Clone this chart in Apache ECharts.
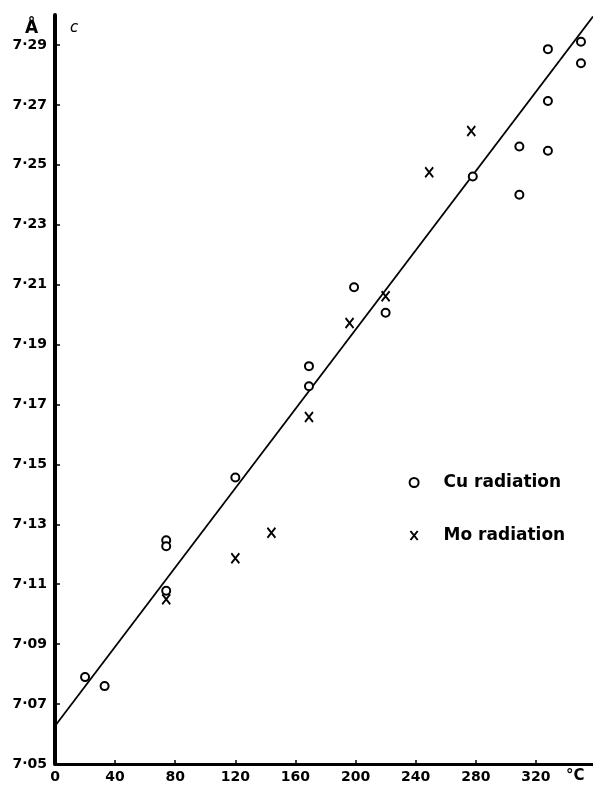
<!DOCTYPE html>
<html>
<head>
<meta charset="utf-8">
<script src="https://cdn.jsdelivr.net/npm/echarts@6/dist/echarts.min.js"></script>
<style>
html,body{margin:0;padding:0;background:#fff;}
#chart{width:593px;height:785px;}
</style>
</head>
<body>
<div id="chart"></div>
<script>
// Temperature (°C) and lattice parameter c (Å)
var cuTemp = [20, 33, 74, 74, 74, 120, 169, 169, 199, 220, 278, 309, 309, 328, 328, 328, 350, 350];
var cuC    = [7.079, 7.076, 7.1247, 7.1227, 7.1078, 7.1456, 7.1828, 7.1761, 7.2091, 7.2006, 7.2461, 7.2561, 7.2400, 7.2886, 7.2713, 7.2547, 7.2911, 7.2839];
var moTemp = [74, 120, 144, 169, 196, 220, 249, 277];
var moC    = [7.105, 7.1187, 7.1272, 7.1658, 7.1972, 7.2061, 7.2475, 7.2613];
var fitTemp = [0, 358];
var fitC    = [7.0627, 7.2995];
var xTicks = [0, 40, 80, 120, 160, 200, 240, 280, 320];
var yTicks = [7.05, 7.07, 7.09, 7.11, 7.13, 7.15, 7.17, 7.19, 7.21, 7.23, 7.25, 7.27, 7.29];

function pairs(a, b) { return a.map(function (v, i) { return [v, b[i]]; }); }

var FONT = 'DejaVu Sans';
var chart = echarts.init(document.getElementById('chart'));
chart.setOption({
  animation: false,
  backgroundColor: '#fff',
  grid: { left: 55, right: 0, top: 15, bottom: 21 },
  xAxis: {
    type: 'value', min: 0, max: 358, interval: 40,
    axisLine: { lineStyle: { color: '#000', width: 3 } },
    axisTick: { inside: true, length: 4, lineStyle: { color: '#000', width: 1.5 } },
    splitLine: { show: false },
    axisLabel: {
      color: '#000', fontFamily: FONT, fontWeight: 'bold', fontSize: 14, margin: 6,
      showMaxLabel: false,
      formatter: function (v) { return xTicks.indexOf(Math.round(v)) >= 0 && Math.abs(v - Math.round(v)) < 1e-6 ? String(Math.round(v)) : ''; }
    }
  },
  yAxis: {
    type: 'value', min: 7.05, max: 7.30, interval: 0.02,
    axisLine: { lineStyle: { color: '#000', width: 4 } },
    axisTick: { inside: true, length: 5, lineStyle: { color: '#000', width: 1.5 } },
    splitLine: { show: false },
    axisLabel: {
      color: '#000', fontFamily: FONT, fontWeight: 'bold', fontSize: 14, margin: 8,
      showMaxLabel: false,
      formatter: function (v) {
        for (var i = 0; i < yTicks.length; i++) {
          if (Math.abs(v - yTicks[i]) < 1e-6) return yTicks[i].toFixed(2).replace('.', '·');
        }
        return '';
      }
    }
  },
  legend: {
    orient: 'vertical', left: 403, top: 469, itemGap: 36,
    itemWidth: 9, itemHeight: 9,
    data: ['Cu radiation', 'Mo radiation'],
    textStyle: { color: '#000', fontFamily: FONT, fontWeight: 'bold', fontSize: 17, padding: [0, 0, 0, 20] }
  },
  graphic: [
    { type: 'text', left: 25, top: 20, style: { text: 'Å', fill: '#000', font: 'bold 17px "DejaVu Sans"' } },
    { type: 'text', left: 70, top: 21, style: { text: 'c', fill: '#000', font: 'italic 15px "DejaVu Sans"' } },
    { type: 'text', left: 566, top: 769, style: { text: '°C', fill: '#000', font: 'bold 15px "DejaVu Sans"' } }
  ],
  series: [
    {
      name: 'fit', type: 'line', data: pairs(fitTemp, fitC), symbol: 'none',
      lineStyle: { color: '#000', width: 1.8 }, z: 1
    },
    {
      name: 'Cu radiation', type: 'scatter', data: pairs(cuTemp, cuC),
      symbol: 'circle', symbolSize: 8,
      itemStyle: { color: '#fff', borderColor: '#000', borderWidth: 2, opacity: 1 }, z: 3
    },
    {
      name: 'Mo radiation', type: 'scatter', data: pairs(moTemp, moC),
      symbol: 'path://M0,0L8,10M8,0L0,10', symbolSize: [8, 10],
      itemStyle: { color: 'none', borderColor: '#000', borderWidth: 2, opacity: 1 }, z: 3
    }
  ]
});
</script>
</body>
</html>
